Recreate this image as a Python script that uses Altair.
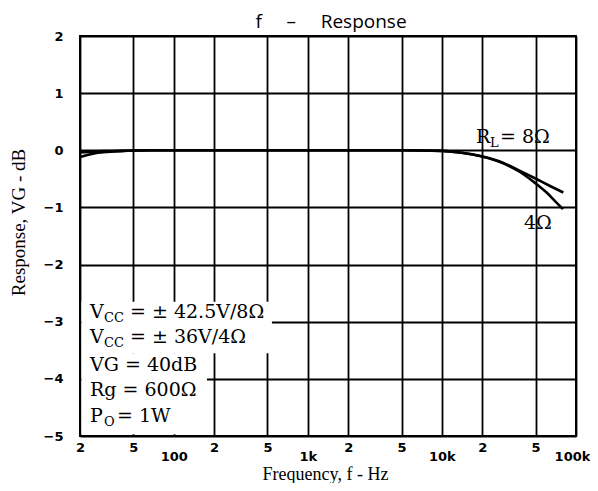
import altair as alt
import pandas as pd

# ---- data ----
freq_8 = [20, 23, 26, 30, 40, 50, 70, 100, 1000, 5000, 10000, 13600, 20000, 28700, 38200, 49400, 64000, 80500]
resp_8 = [-0.12, -0.08, -0.05, -0.035, -0.015, -0.005, 0, 0, 0, 0, -0.01, -0.04, -0.11, -0.22, -0.36, -0.49, -0.625, -0.74]
freq_4 = [20, 25, 30, 40, 50, 70, 100, 1000, 5000, 10000, 13600, 20000, 28700, 38200, 49400, 60400, 71800, 80000]
resp_4 = [-0.04, -0.025, -0.015, -0.01, -0.005, 0, 0, 0, 0, -0.01, -0.04, -0.11, -0.23, -0.38, -0.57, -0.74, -0.92, -1.03]

x_grid = [20, 50, 100, 200, 500, 1000, 2000, 5000, 10000, 20000, 50000, 100000]
x_tick_labels = ["2", "5", "100", "2", "5", "1k", "2", "5", "10k", "2", "5", "100k"]
decade_ticks = [100, 1000, 10000, 100000]
y_ticks = [2, 1, 0, -1, -2, -3, -4, -5]
y_tick_labels = ["2", "1", "0", "\u22121", "\u22122", "\u22123", "\u22124", "\u22125"]

sp = "\u00a0" * 5
title_text = ["f" + sp + "\u2013" + sp + "Response"]

note_text = ["V", "= \u00b1 42.5V/8\u03a9", "V", "= \u00b1 36V/4\u03a9", "VG = 40dB", "Rg = 600\u03a9",
             "P", "= 1W", "R", "= 8\u03a9", "4\u03a9"]
note_f = [23.75, 47.2, 23.75, 47.2, 23.75, 23.75, 23.75, 37.8, 17950, 27100, 40920]
note_db = [-2.935, -2.935, -3.373, -3.373, -3.863, -4.30, -4.755, -4.755, 0.127, 0.127, -1.378]
sub_text = ["CC", "CC", "O", "L"]
sub_f = [30.2, 30.2, 30.2, 22820]
sub_db = [-3.005, -3.443, -4.825, 0.057]

box_f1 = [20.5, 20.5]
box_f2 = [540, 177]
box_db1 = [-2.65, -3.55]
box_db2 = [-3.55, -4.97]

# ---- tables ----
curves = pd.DataFrame(
    [{"f": f, "r": r, "s": "8"} for f, r in zip(freq_8, resp_8)]
    + [{"f": f, "r": r, "s": "4"} for f, r in zip(freq_4, resp_4)]
)
notes = pd.DataFrame({"f": note_f, "r": note_db, "t": note_text})
subs = pd.DataFrame({"f": sub_f, "r": sub_db, "t": sub_text})
boxes = pd.DataFrame({"f1": box_f1, "f2": box_f2, "r1": box_db1, "r2": box_db2})
titles = pd.DataFrame({"t": title_text})

x_map = "{" + ",".join(f"'{v}':'{l}'" for v, l in zip(x_grid, x_tick_labels)) + "}"
y_map = "{" + ",".join(f"'{v}':'{l}'" for v, l in zip(y_ticks, y_tick_labels)) + "}"
decade_test = " || ".join(f"datum.value == {v}" for v in decade_ticks)

x_scale = alt.Scale(type="log", domain=[20, 100000], nice=False)
y_scale = alt.Scale(domain=[-5, 2], nice=False)

x_axis = alt.Axis(
    values=x_grid, labelExpr=f"{x_map}[datum.value]",
    grid=True, gridColor="black", gridWidth=1.8, gridOpacity=1,
    ticks=False, domain=False,
    labelFont="DejaVu Sans", labelFontWeight="bold", labelFontSize=13, labelColor="black",
    labelBaseline="top", labelFlush=False, labelOverlap=False,
    labelPadding={"condition": {"test": decade_test, "value": 14}, "value": 5},
    labelOffset={"condition": {"test": "datum.value >= 100000", "value": -4}, "value": 0},
    title="Frequency, f - Hz", titleFont="Liberation Serif", titleFontSize=18,
    titleFontWeight="normal", titleColor="black", titleX=245, titleY=43,
    titleBaseline="alphabetic", titleAlign="center",
)
y_axis = alt.Axis(
    values=y_ticks, labelExpr=f"{y_map}[datum.value]",
    grid=True, gridColor="black", gridWidth=1.8, gridOpacity=1,
    ticks=False, domain=False,
    labelFont="DejaVu Sans", labelFontWeight="bold", labelFontSize=13, labelColor="black",
    labelPadding=17, labelFlush=False, labelOverlap=False,
    title="Response, VG - dB", titleFont="Liberation Serif", titleFontSize=19,
    titleFontWeight="normal", titleColor="black", titleX=-56, titleY=186,
    titleBaseline="alphabetic", titleAlign="center",
)


def X(field):
    return alt.X(field, type="quantitative", scale=x_scale, axis=x_axis)


def Y(field):
    return alt.Y(field, type="quantitative", scale=y_scale, axis=y_axis)


lines = alt.Chart(curves).mark_line(color="black", strokeWidth=2.6, interpolate="monotone").encode(
    x=X("f"), y=Y("r"), detail="s:N"
)
box = alt.Chart(boxes).mark_rect(color="white", opacity=1).encode(
    x=X("f1"), x2="f2", y=Y("r1"), y2="r2"
)
note_marks = alt.Chart(notes).mark_text(
    font="DejaVu Serif", fontSize=19, align="left", baseline="alphabetic", color="black"
).encode(x=X("f"), y=Y("r"), text="t:N")
sub_marks = alt.Chart(subs).mark_text(
    font="DejaVu Serif", fontSize=13, align="left", baseline="alphabetic", color="black"
).encode(x=X("f"), y=Y("r"), text="t:N")
title_mark = alt.Chart(titles).mark_text(
    font="Open Sans", fontSize=19, align="center", baseline="alphabetic", color="black"
).encode(x=alt.value(251), y=alt.value(-8), text="t:N")

chart = alt.layer(box, lines, note_marks, sub_marks, title_mark).properties(
    width=496, height=400,
    autosize=alt.AutoSizeParams(type="none"),
    padding={"left": 72, "top": 28, "right": 14, "bottom": 47},
    background="white",
).configure_view(stroke="black", strokeWidth=2)

chart.save("out.html", embed_options={"renderer": "svg", "actions": False})
